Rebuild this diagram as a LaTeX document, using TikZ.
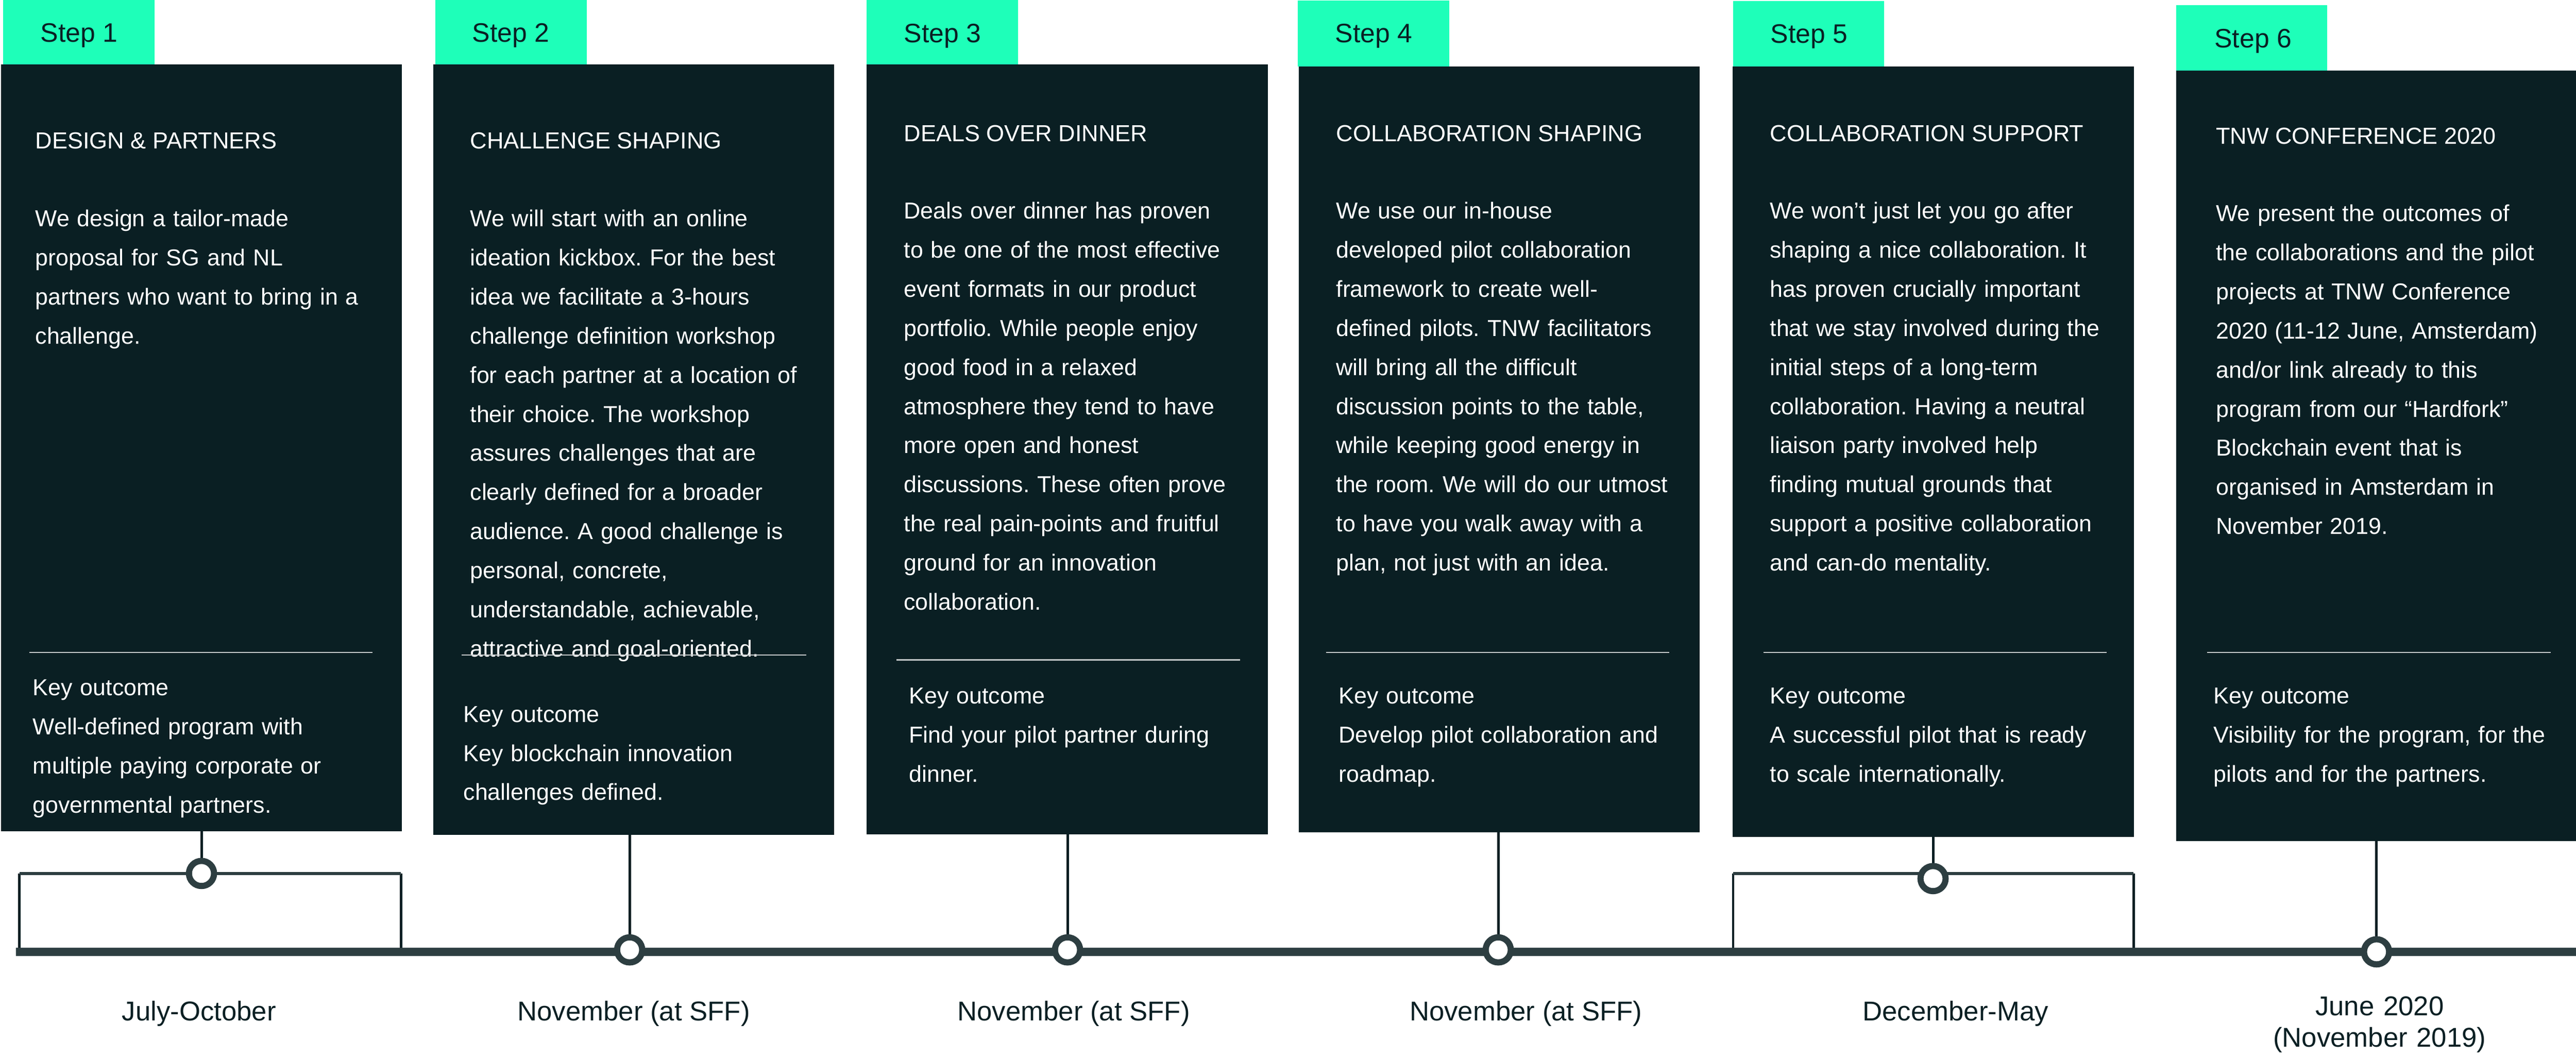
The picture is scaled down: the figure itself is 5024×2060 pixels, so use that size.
\documentclass[tikz,border=0pt]{standalone}
\usepackage{fontspec}
\setmainfont{Liberation Sans}
\frenchspacing
\definecolor{cardbg}{HTML}{0A1F23}
\definecolor{mint}{HTML}{1EFFB9}
\definecolor{slate}{HTML}{2D3E41}
\definecolor{sepgray}{HTML}{C5CACB}
\begin{document}
\begin{tikzpicture}[x=0.2pt,y=-0.2pt,
  card/.style={fill=cardbg, draw=none, inner sep=0pt, outer sep=0pt, anchor=north west, rectangle},
  tabbox/.style={fill=mint, draw=none, inner sep=0pt, outer sep=0pt, anchor=north west, rectangle, minimum width=59pt},
  steplbl/.style={anchor=base west, inner sep=0pt, text=cardbg, font=\fontsize{10.4pt}{12pt}\selectfont},
  ttl/.style={anchor=base west, inner sep=0pt, text=white, font=\fontsize{9.05pt}{12pt}\selectfont},
  body/.style={anchor=base west, inner sep=0pt, text=white, text width=150pt, align=left, font=\fontsize{9pt}{15.24pt}\selectfont\frenchspacing},
  sepline/.style={draw=sepgray, line width=0.55pt},
  conn/.style={draw=cardbg, line width=1pt},
  mainline/.style={draw=slate, line width=3.2pt},
  brh/.style={draw=slate, line width=1.06pt},
  leg/.style={draw=cardbg, line width=0.94pt},
  dot/.style={circle, draw=slate, line width=2.4pt, fill=white, minimum size=9.8pt, inner sep=0pt},
  datelbl/.style={anchor=base, inner sep=0pt, text=cardbg, font=\fontsize{10.6pt}{12.3pt}\selectfont}]
\useasboundingbox (0,0) rectangle (5024,2060);
\fill[white] (0,0) rectangle (5024,2060);

% tabs
\node[tabbox, minimum height=25.12pt] (tab1) at (6,0) {};
\node[tabbox, minimum height=25.12pt] (tab2) at (849,0) {};
\node[tabbox, minimum height=25.12pt] (tab3) at (1690,0) {};
\node[tabbox, minimum height=25.7pt] (tab4) at (2531,1) {};
\node[tabbox, minimum height=25.6pt] (tab5) at (3380,2) {};
\node[tabbox, minimum height=25.6pt] (tab6) at (4244,10) {};

% cards
\node[card, minimum width=156.4pt, minimum height=299pt] (card1) at (2,125.6) {};
\node[card, minimum width=156.4pt, minimum height=300.34pt] (card2) at (845,125.6) {};
\node[card, minimum width=156.5pt, minimum height=300.3pt] (card3) at (1690,125.6) {};
\node[card, minimum width=156.4pt, minimum height=298.7pt] (card4) at (2533,129.5) {};
\node[card, minimum width=156.6pt, minimum height=300.4pt] (card5) at (3379,130) {};
\node[card, minimum width=157pt, minimum height=300.4pt] (card6) at (4244,138) {};

% step labels
\node[steplbl] (s1) at (78,82) {Step 1};
\node[steplbl] (s2) at (920,82) {Step 2};
\node[steplbl] (s3) at (1762,83) {Step 3};
\node[steplbl] (s4) at (2603,83) {Step 4};
\node[steplbl] (s5) at (3452,84) {Step 5};
\node[steplbl] (s6) at (4318,92.5) {Step 6};

% titles
\node[ttl] (t1) at (68,290) {DESIGN \& PARTNERS};
\node[ttl] (t2) at (916,290) {CHALLENGE SHAPING};
\node[ttl] (t3) at (1762,275.5) {DEALS OVER DINNER};
\node[ttl] (t4) at (2605,275.5) {COLLABORATION SHAPING};
\node[ttl] (t5) at (3451,275.5) {COLLABORATION SUPPORT};
\node[ttl] (t6) at (4321,280.6) {TNW CONFERENCE 2020};

% bodies
\node[body] (b1) at (68,442) {We design a tailor-made\\proposal for SG and NL\\partners who want to bring in a\\challenge.};
\node[body] (b2) at (916,442) {We will start with an online\\ideation kickbox. For the best\\idea we facilitate a 3-hours\\challenge definition workshop\\for each partner at a location of\\their choice. The workshop\\assures challenges that are\\clearly defined for a broader\\audience. A good challenge is\\personal, concrete,\\understandable, achievable,\\attractive and goal-oriented.};
\node[body] (b3) at (1762,427) {Deals over dinner has proven\\to be one of the most effective\\event formats in our product\\portfolio. While people enjoy\\good food in a relaxed\\atmosphere they tend to have\\more open and honest\\discussions. These often prove\\the real pain-points and fruitful\\ground for an innovation\\collaboration.};
\node[body] (b4) at (2605,427) {We use our in-house\\developed pilot collaboration\\framework to create well-\\defined pilots. TNW facilitators\\will bring all the difficult\\discussion points to the table,\\while keeping good energy in\\the room. We will do our utmost\\to have you walk away with a\\plan, not just with an idea.};
\node[body] (b5) at (3451,427) {We won’t just let you go after\\shaping a nice collaboration. It\\has proven crucially important\\that we stay involved during the\\initial steps of a long-term\\collaboration. Having a neutral\\liaison party involved help\\finding mutual grounds that\\support a positive collaboration\\and can-do mentality.};
\node[body] (b6) at (4321,432) {We present the outcomes of\\the collaborations and the pilot\\projects at TNW Conference\\2020 (11-12 June, Amsterdam)\\and/or link already to this\\program from our “Hardfork”\\Blockchain event that is\\organised in Amsterdam in\\November 2019.};

% separators
\draw[sepline] (57,1272) -- (726,1272);
\draw[sepline] (900,1277) -- (1572,1277);
\draw[sepline] (1748,1287) -- (2419,1287);
\draw[sepline] (2586,1272) -- (3256,1272);
\draw[sepline] (3439,1272) -- (4109,1272);
\draw[sepline] (4305,1272) -- (4975,1272);

% key outcomes
\node[body] (k1) at (63,1356) {Key outcome\\Well-defined program with\\multiple paying corporate or\\governmental partners.};
\node[body] (k2) at (903,1408) {Key outcome\\Key blockchain innovation\\challenges defined.};
\node[body] (k3) at (1772,1372) {Key outcome\\Find your pilot partner during\\dinner.};
\node[body] (k4) at (2610,1372) {Key outcome\\Develop pilot collaboration and\\roadmap.};
\node[body] (k5) at (3451,1372) {Key outcome\\A successful pilot that is ready\\to scale internationally.};
\node[body] (k6) at (4316,1372) {Key outcome\\Visibility for the program, for the\\pilots and for the partners.};

% timeline coordinates
\coordinate (tl0) at (30.7,1856.3);
\coordinate (tl1) at (5024,1856.3);
\coordinate (br1l) at (38,1703);
\coordinate (br1r) at (782,1703);
\coordinate (br5l) at (3380,1703);
\coordinate (br5r) at (4161,1703);
\coordinate (p1) at (393,1703);
\coordinate (p2) at (1228,1852);
\coordinate (p3) at (2082,1852);
\coordinate (p4) at (2922,1852);
\coordinate (p5) at (3770,1713);
\coordinate (p6) at (4635,1855.8);

% connectors from cards
\draw[conn] (card1.south -| p1) -- (p1);
\draw[conn] (card2.south -| p2) -- (p2);
\draw[conn] (card3.south -| p3) -- (p3);
\draw[conn] (card4.south -| p4) -- (p4);
\draw[conn] (card5.south -| p5) -- (p5);
\draw[conn] (card6.south -| p6) -- (p6);

% brackets
\draw[leg] (br1l) -- (br1l |- tl0);
\draw[leg] (br1r) -- (br1r |- tl0);
\draw[brh] (br1l) -- (br1r);
\draw[leg] (br5l) -- (br5l |- tl0);
\draw[leg] (br5r) -- (br5r |- tl0);
\draw[brh] (br5l) -- (br5r);

% main line
\draw[mainline] (tl0) -- (tl1);

% dots
\node[dot] (d1) at (p1) {};
\node[dot] (d2) at (p2) {};
\node[dot] (d3) at (p3) {};
\node[dot] (d4) at (p4) {};
\node[dot] (d5) at (p5) {};
\node[dot] (d6) at (p6) {};

% dates
\node[datelbl] (dt1) at (388,1990) {July-October};
\node[datelbl] (dt2) at (1236,1990) {November (at SFF)};
\node[datelbl] (dt3) at (2094,1990) {November (at SFF)};
\node[datelbl] (dt4) at (2976,1990) {November (at SFF)};
\node[datelbl] (dt5) at (3814,1990) {December-May};
\node[datelbl, text width=100pt, align=center] (dt6) at (4641,1980) {June 2020\\(November 2019)};
\end{tikzpicture}
\end{document}
